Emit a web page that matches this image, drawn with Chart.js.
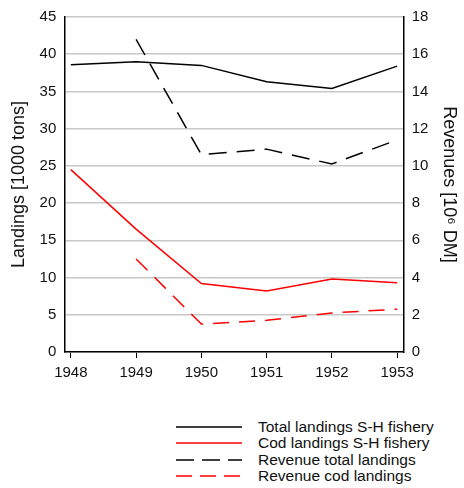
<!DOCTYPE html>
<html>
<head>
<meta charset="utf-8">
<script src="https://cdn.jsdelivr.net/npm/chart.js@4"></script>
<style>
  body { margin: 0; background: #fff; font-family: "Liberation Sans", Arial, sans-serif; }
  #wrap { position: relative; width: 464px; height: 488px; }
  #chartBox { position: absolute; left: 0; top: 0; width: 464px; height: 388px; }
  #legend { position: absolute; left: 176px; top: 419px; font-size: 15.5px; color: #111; }
  .row { height: 16.3px; line-height: 16px; display: flex; align-items: center; }
  .row svg { width: 66px; height: 16px; margin-right: 16px; }
</style>
</head>
<body>
<div id="wrap">
  <div id="chartBox"><canvas id="myChart" width="464" height="388"></canvas></div>
  <div id="legend"></div>
</div>
<script>
const years = [1948, 1949, 1950, 1951, 1952, 1953];
const totalLandings = [38.6, 39.0, 38.5, 36.3, 35.4, 38.4];
const codLandings = [24.5, 16.5, 9.2, 8.2, 9.8, 9.3];
const revenueTotal = [null, 16.8, 10.6, 10.9, 10.1, 11.4];
const revenueCod = [null, 5.0, 1.5, 1.7, 2.1, 2.3];
const leftTicks = [0, 5, 10, 15, 20, 25, 30, 35, 40, 45];
const rightTicks = [0, 2, 4, 6, 8, 10, 12, 14, 16, 18];

const toPoints = (arr) => arr.map((v, i) => ({ x: years[i], y: v }));

const seriesList = [
  { label: "Total landings S-H fishery", data: totalLandings, color: "#000", dash: [], axis: "y" },
  { label: "Cod landings S-H fishery", data: codLandings, color: "#ff0000", dash: [], axis: "y" },
  { label: "Revenue total landings", data: revenueTotal, color: "#000", dash: [18, 10], axis: "y2" },
  { label: "Revenue cod landings", data: revenueCod, color: "#ff0000", dash: [16, 10], axis: "y2" },
];

const fontTick = { family: "Liberation Sans", size: 15 };
const fontTitle = { family: "Liberation Sans", size: 18 };

const ctx = document.getElementById("myChart").getContext("2d");
const myChart = new Chart(ctx, {
  type: "line",
  data: {
    datasets: seriesList.map((s) => ({
      label: s.label,
      data: toPoints(s.data),
      borderColor: s.color,
      borderWidth: 1.5,
      borderDash: s.dash,
      pointRadius: 0,
      tension: 0,
      yAxisID: s.axis,
      spanGaps: false,
    })),
  },
  options: {
    responsive: false,
    animation: false,
    layout: { padding: { top: 12, left: 6, right: 2, bottom: 0 } },
    plugins: { legend: { display: false }, tooltip: { enabled: false } },
    scales: {
      x: {
        type: "linear",
        min: 1947.9,
        max: 1953.1,
        afterBuildTicks: (axis) => {
          axis.ticks = years.map((v) => ({ value: v }));
        },
        ticks: { color: "#111", font: fontTick, padding: 6, maxRotation: 0, callback: (v) => String(v) },
        grid: { drawOnChartArea: false, drawTicks: true, tickLength: 6, color: "#000" },
        border: { color: "#000", width: 1.5 },
      },
      y: {
        position: "left",
        min: 0,
        max: 45,
        afterBuildTicks: (axis) => {
          axis.ticks = leftTicks.map((v) => ({ value: v }));
        },
        ticks: { color: "#111", font: fontTick, padding: 8 },
        grid: { color: "#c8c8c8", lineWidth: 1.5, drawTicks: false },
        border: { color: "#000", width: 1.5 },
        title: { display: true, text: "Landings [1000 tons]", color: "#111", font: fontTitle, padding: 2 },
      },
      y2: {
        position: "right",
        min: 0,
        max: 18,
        afterBuildTicks: (axis) => {
          axis.ticks = rightTicks.map((v) => ({ value: v }));
        },
        ticks: { color: "#111", font: fontTick, padding: 8 },
        grid: { drawOnChartArea: false, drawTicks: false },
        border: { color: "#000", width: 1.5 },
        title: { display: true, text: "Revenues [10\u2076 DM]", color: "#111", font: fontTitle, padding: 2 },
      },
    },
  },
});

// legend as html, one row per series
const legendRef = document.querySelector("#legend");
seriesList.forEach((s) => {
  const row = document.createElement("div");
  row.className = "row";
  const dashAttr = s.dash.length ? `stroke-dasharray="${s.dash[0]} ${s.dash[1] - 2}"` : "";
  row.innerHTML = `<svg viewBox="0 0 66 16"><line x1="0" y1="8" x2="66" y2="8" stroke="${s.color}" stroke-width="1.5" ${dashAttr}/></svg><span>${s.label}</span>`;
  legendRef.appendChild(row);
});
</script>
</body>
</html>
